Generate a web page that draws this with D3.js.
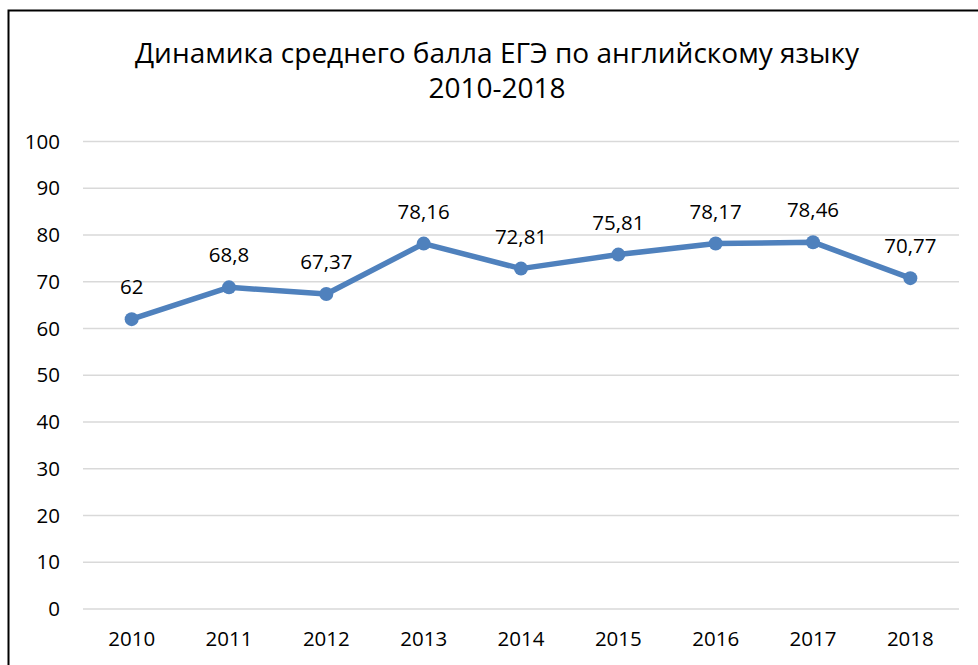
<!DOCTYPE html>
<html>
<head>
<meta charset="utf-8">
<script src="https://cdn.jsdelivr.net/npm/d3@7"></script>
<style>
    html, body { margin: 0; padding: 0; background: white; }
    svg text { font-family: "Open Sans", sans-serif; fill: #000; }
</style>
</head>
<body>
<svg id="chart" width="978" height="665"></svg>
<script>

// Data
const years = ['2010', '2011', '2012', '2013', '2014', '2015', '2016', '2017', '2018'];
const scores = [62, 68.8, 67.37, 78.16, 72.81, 75.81, 78.17, 78.46, 70.77];
const yTicks = [0, 10, 20, 30, 40, 50, 60, 70, 80, 90, 100];
const titleLines = ['Динамика среднего балла ЕГЭ по английскому языку', '2010-2018'];

// Layout
const PLOT_LEFT = 83, PLOT_RIGHT = 959, PLOT_TOP = 141.5, PLOT_BOTTOM = 609;
const LINE_COLOR = '#4F81BD';
const GRID_COLOR = '#D9D9D9';
const LABEL_SIZE = 20.5;

const svg = d3.select('#chart');

// Frame (cropped on right and bottom)
svg.append('path')
    .attr('d', 'M8.5,665 L8.5,10.5 L978,10.5')
    .attr('fill', 'none')
    .attr('stroke', '#000')
    .attr('stroke-width', 2);

// Scales
const x = d3.scaleBand().domain(years).range([PLOT_LEFT, PLOT_RIGHT]);
const y = d3.scaleLinear().domain([0, 100]).range([PLOT_BOTTOM, PLOT_TOP]);

// Title
svg.append('text')
    .attr('text-anchor', 'middle')
    .attr('font-size', 28)
    .selectAll('tspan')
    .data(titleLines)
    .enter().append('tspan')
    .attr('x', 497)
    .attr('y', (d, i) => 63 + i * 35)
    .text((d) => d);

// Gridlines
svg.append('g')
    .selectAll('line')
    .data(yTicks)
    .enter().append('line')
    .attr('x1', PLOT_LEFT)
    .attr('x2', PLOT_RIGHT)
    .attr('y1', (d) => y(d))
    .attr('y2', (d) => y(d))
    .attr('stroke', GRID_COLOR)
    .attr('stroke-width', 1.5);

// Y axis labels
const yAxis = svg.append('g')
    .attr('transform', `translate(${PLOT_LEFT - 11},0)`)
    .call(d3.axisLeft(y).tickValues(yTicks).tickSize(0).tickPadding(12));
yAxis.select('.domain').remove();
yAxis.selectAll('text')
    .attr('font-family', '"Open Sans", sans-serif')
    .attr('font-size', LABEL_SIZE)
    .attr('fill', '#000');

// X axis labels
const xAxis = svg.append('g')
    .attr('transform', `translate(0,${PLOT_BOTTOM})`)
    .call(d3.axisBottom(x).tickSize(0).tickPadding(22));
xAxis.select('.domain').remove();
xAxis.selectAll('text')
    .attr('font-family', '"Open Sans", sans-serif')
    .attr('font-size', LABEL_SIZE)
    .attr('fill', '#000');

// Line
const cx = (d, i) => x(years[i]) + x.bandwidth() / 2;
svg.append('path')
    .datum(scores)
    .attr('fill', 'none')
    .attr('stroke', LINE_COLOR)
    .attr('stroke-width', 5.5)
    .attr('stroke-linejoin', 'round')
    .attr('stroke-linecap', 'round')
    .attr('d', d3.line().x(cx).y((d) => y(d)));

// Markers
svg.append('g')
    .selectAll('circle')
    .data(scores)
    .enter().append('circle')
    .attr('cx', cx)
    .attr('cy', (d) => y(d))
    .attr('r', 7)
    .attr('fill', LINE_COLOR);

// Data labels
svg.append('g')
    .selectAll('text')
    .data(scores)
    .enter().append('text')
    .attr('x', cx)
    .attr('y', (d) => y(d) - 25)
    .attr('text-anchor', 'middle')
    .attr('font-size', LABEL_SIZE)
    .text((d) => String(d).replace('.', ','));

</script>
</body>
</html>
